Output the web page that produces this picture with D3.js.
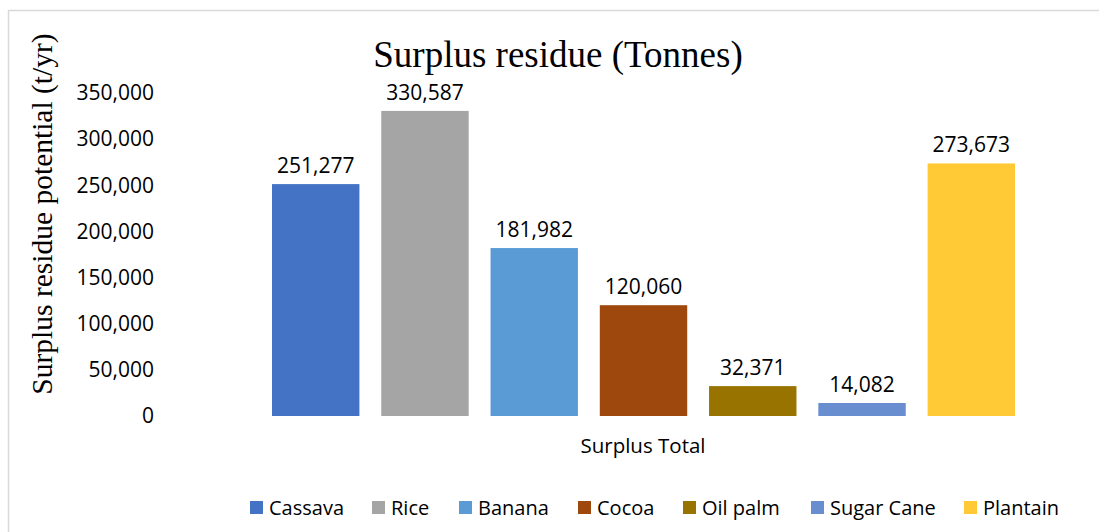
<!DOCTYPE html>
<html>
<head>
<meta charset="utf-8">
<script src="https://cdn.jsdelivr.net/npm/d3@7"></script>
<style>
  body { margin: 0; background: #fff; }
  svg { display: block; }
</style>
</head>
<body>
<svg id="chart" width="1099" height="532"></svg>
<script>
var crops = ["Cassava", "Rice", "Banana", "Cocoa", "Oil palm", "Sugar Cane", "Plantain"];
var residue = [251277, 330587, 181982, 120060, 32371, 14082, 273673];
var colors = ["#4472C4", "#A5A5A5", "#5B9BD5", "#9E480E", "#997300", "#698ED0", "#FFCA35"];
var yTicks = [0, 50000, 100000, 150000, 200000, 250000, 300000, 350000];
var category = "Surplus Total";

var svg = d3.select("#chart");
var sans = "'Open Sans', sans-serif";
var serif = "'Liberation Serif', 'Times New Roman', serif";

// chart border (cut at right/bottom like the reference)
svg.append("rect")
    .attr("x", 8.5).attr("y", 10.5)
    .attr("width", 1200).attr("height", 600)
    .attr("fill", "none")
    .attr("stroke", "#D9D9D9")
    .attr("stroke-width", 1.5);

var y = d3.scaleLinear().domain([0, 350000]).range([416, 93]);
var x = d3.scaleBand().domain(crops).range([272, 1015]).paddingInner(0.2).paddingOuter(0);
var fmt = d3.format(",");

// y axis labels only
var yAxis = d3.axisLeft(y).tickValues(yTicks).tickFormat(fmt).tickSize(0).tickPadding(0);
var ga = svg.append("g").attr("transform", "translate(154,0)").call(yAxis);
ga.select(".domain").remove();
ga.selectAll("text")
    .attr("font-family", sans)
    .attr("font-size", "21px")
    .attr("fill", "#000");

// bars
svg.selectAll(".bar")
    .data(crops)
    .enter().append("rect")
    .attr("class", "bar")
    .attr("x", function (d) { return x(d); })
    .attr("y", function (d, i) { return y(residue[i]); })
    .attr("width", x.bandwidth())
    .attr("height", function (d, i) { return y(0) - y(residue[i]); })
    .attr("fill", function (d, i) { return colors[i]; });

// value labels
svg.selectAll(".val")
    .data(crops)
    .enter().append("text")
    .attr("class", "val")
    .attr("x", function (d) { return x(d) + x.bandwidth() / 2; })
    .attr("y", function (d, i) { return y(residue[i]) - 11; })
    .attr("text-anchor", "middle")
    .attr("font-family", sans)
    .attr("font-size", "21px")
    .attr("fill", "#000")
    .text(function (d, i) { return fmt(residue[i]); });

// category label
svg.append("text")
    .attr("x", 643).attr("y", 453)
    .attr("text-anchor", "middle")
    .attr("font-family", sans)
    .attr("font-size", "20.5px")
    .attr("fill", "#000")
    .text(category);

// title
svg.append("text")
    .attr("x", 558).attr("y", 67)
    .attr("text-anchor", "middle")
    .attr("font-family", serif)
    .attr("font-size", "37px")
    .attr("fill", "#000")
    .text("Surplus residue (Tonnes)");

// y axis title
svg.append("text")
    .attr("transform", "translate(52,214) rotate(-90)")
    .attr("text-anchor", "middle")
    .attr("font-family", serif)
    .attr("font-size", "29.5px")
    .attr("fill", "#000")
    .text("Surplus residue potential (t/yr)");

// legend
var legendX = [250, 372, 459, 578, 683, 811, 964];
var lg = svg.selectAll(".leg")
    .data(crops)
    .enter().append("g")
    .attr("class", "leg")
    .attr("transform", function (d, i) { return "translate(" + legendX[i] + ",501)"; });
lg.append("rect")
    .attr("width", 13).attr("height", 13)
    .attr("fill", function (d, i) { return colors[i]; });
lg.append("text")
    .attr("x", 19).attr("y", 14)
    .attr("font-family", sans)
    .attr("font-size", "20px")
    .attr("fill", "#000")
    .text(function (d) { return d; });
</script>
</body>
</html>
